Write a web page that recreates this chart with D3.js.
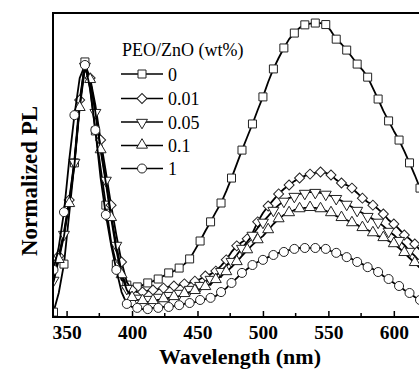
<!DOCTYPE html>
<html><head><meta charset="utf-8">
<script src="https://cdn.jsdelivr.net/npm/d3@7"></script>
<style>body{margin:0;background:#fff}svg{display:block}</style>
</head><body>
<svg id="chart" width="419" height="370"></svg>
<script>
const wavelengths = [340,344,348,352,356,360,364,368,372,376,380,384,388,392,396,400,404,408,412,416,420,424,428,432,436,440,444,448,452,456,460,464,468,472,476,480,484,488,492,496,500,504,508,512,516,520,524,528,532,536,540,544,548,552,556,560,564,568,572,576,580,584,588,592,596,600,604,608,612,616,620];
const seriesLabels = ["0","0.01","0.05","0.1","1"];
const pl_0 = [0.016,0.079,0.174,0.339,0.507,0.697,0.839,0.747,0.612,0.490,0.368,0.247,0.174,0.122,0.105,0.095,0.099,0.105,0.112,0.118,0.125,0.135,0.145,0.151,0.161,0.174,0.191,0.220,0.250,0.283,0.313,0.345,0.375,0.414,0.457,0.503,0.549,0.592,0.635,0.681,0.724,0.773,0.816,0.852,0.885,0.914,0.934,0.951,0.961,0.965,0.967,0.967,0.962,0.941,0.914,0.898,0.878,0.855,0.832,0.813,0.789,0.753,0.717,0.678,0.645,0.612,0.582,0.546,0.507,0.467,0.424];
const pl_001 = [0.128,0.201,0.280,0.385,0.516,0.714,0.832,0.786,0.697,0.582,0.477,0.368,0.270,0.181,0.115,0.089,0.082,0.082,0.086,0.089,0.092,0.095,0.099,0.102,0.105,0.109,0.112,0.118,0.125,0.135,0.141,0.151,0.168,0.188,0.214,0.234,0.247,0.257,0.276,0.313,0.342,0.365,0.385,0.405,0.421,0.434,0.447,0.457,0.464,0.470,0.474,0.477,0.474,0.467,0.451,0.441,0.434,0.424,0.408,0.391,0.378,0.368,0.355,0.339,0.319,0.306,0.289,0.270,0.257,0.240,0.220];
const pl_005 = [0.122,0.194,0.273,0.378,0.510,0.697,0.826,0.780,0.674,0.556,0.451,0.336,0.237,0.148,0.095,0.069,0.063,0.059,0.059,0.063,0.066,0.069,0.072,0.076,0.079,0.086,0.092,0.099,0.105,0.115,0.125,0.135,0.151,0.168,0.184,0.204,0.227,0.247,0.270,0.293,0.313,0.332,0.352,0.368,0.382,0.391,0.398,0.405,0.408,0.411,0.411,0.408,0.405,0.398,0.391,0.382,0.372,0.362,0.352,0.342,0.332,0.322,0.313,0.299,0.283,0.270,0.253,0.237,0.217,0.201,0.181];
const pl_01 = [0.115,0.188,0.266,0.372,0.500,0.688,0.819,0.780,0.674,0.549,0.441,0.326,0.220,0.138,0.089,0.063,0.056,0.053,0.049,0.053,0.056,0.059,0.063,0.066,0.069,0.076,0.082,0.086,0.092,0.099,0.109,0.122,0.135,0.148,0.164,0.181,0.201,0.220,0.237,0.253,0.266,0.286,0.306,0.322,0.336,0.342,0.352,0.355,0.359,0.359,0.359,0.355,0.349,0.342,0.332,0.326,0.319,0.309,0.303,0.293,0.286,0.276,0.266,0.260,0.250,0.240,0.227,0.211,0.194,0.178,0.161];
const pl_1 = [0.155,0.230,0.345,0.516,0.664,0.786,0.829,0.753,0.615,0.457,0.336,0.237,0.155,0.082,0.043,0.033,0.030,0.026,0.026,0.030,0.030,0.033,0.033,0.036,0.039,0.043,0.046,0.049,0.056,0.059,0.063,0.069,0.082,0.095,0.112,0.128,0.145,0.158,0.171,0.181,0.188,0.197,0.204,0.211,0.214,0.220,0.224,0.227,0.227,0.227,0.227,0.227,0.224,0.217,0.211,0.204,0.197,0.191,0.181,0.174,0.164,0.158,0.148,0.135,0.125,0.112,0.102,0.089,0.079,0.066,0.056];
const seriesValues = [pl_0, pl_001, pl_005, pl_01, pl_1];
const markerShapes = ["square","diamond","triangleDown","triangleUp","circle"];
const markerOffsets = [0,1,0,1,0];
const xTicks = [350,400,450,500,550,600];
const xMinorTicks = [375,425,475,525,575];
const legendTitle = "PEO/ZnO (wt%)";
const xLabel = "Wavelength (nm)";
const yLabel = "Normalized PL";

const svg = d3.select("#chart");
const pLeft = 53, pTop = 13, pBottom = 317, pRight = 428;
const x = d3.scaleLinear().domain([340, 620]).range([53.5, 420]);
const y = d3.scaleLinear().domain([0, 1]).range([pBottom, pTop]);

svg.append("defs").append("clipPath").attr("id","clip")
  .append("rect").attr("x", pLeft).attr("y", pTop).attr("width", pRight-pLeft).attr("height", pBottom-pTop);

function markerPath(shape) {
  if (shape === "square") return d3.symbol().type(d3.symbolSquare).size(64)();
  if (shape === "diamond") return d3.symbol().type(d3.symbolSquare).size(50)();
  if (shape === "circle") return d3.symbol().type(d3.symbolCircle).size(64)();
  return d3.symbol().type(d3.symbolTriangle).size(52)();
}
function markerTransform(shape, px, py) {
  if (shape === "diamond") return `translate(${px},${py}) rotate(45)`;
  if (shape === "triangleDown") return `translate(${px},${py+0.5}) rotate(180)`;
  if (shape === "triangleUp") return `translate(${px},${py-0.5})`;
  return `translate(${px},${py})`;
}

const plot = svg.append("g").attr("clip-path","url(#clip)");
const line = d3.line().x((d,i)=>x(wavelengths[i])).y(d=>y(d));

seriesValues.forEach((vals, si) => {
  const g = plot.append("g");
  g.append("path").datum(vals).attr("d", line)
    .attr("fill","none").attr("stroke","#000").attr("stroke-width",1.8).attr("stroke-linejoin","round");
  const pts = vals.map((v,i)=>({v,i})).filter(d => d.i % 2 === markerOffsets[si]);
  g.selectAll("path.m").data(pts).enter().append("path").attr("class","m")
    .attr("d", markerPath(markerShapes[si]))
    .attr("transform", d => markerTransform(markerShapes[si], x(wavelengths[d.i]), y(d.v)))
    .attr("fill","#fff").attr("stroke","#222").attr("stroke-width",1);
});

// frame
svg.append("rect").attr("x", pLeft).attr("y", pTop).attr("width", pRight-pLeft).attr("height", pBottom-pTop)
  .attr("fill","none").attr("stroke","#000").attr("stroke-width",2);

// x axis
const xAxis = d3.axisBottom(x).tickValues(xTicks).tickSizeInner(-6).tickSizeOuter(0).tickPadding(8).tickFormat(d3.format("d"));
const ax = svg.append("g").attr("transform",`translate(0,${pBottom})`).call(xAxis);
ax.select(".domain").remove();
ax.selectAll(".tick line").attr("stroke","#000").attr("stroke-width",1.5);
ax.selectAll(".tick text").attr("font-family","'Liberation Serif', 'Times New Roman', serif")
  .attr("font-size",19.5).attr("font-weight","bold").attr("fill","#000");
svg.append("g").selectAll("line").data(xMinorTicks).enter().append("line")
  .attr("x1",d=>x(d)).attr("x2",d=>x(d)).attr("y1",pBottom).attr("y2",pBottom-4)
  .attr("stroke","#000").attr("stroke-width",1.5);

// labels
svg.append("text").attr("x",240).attr("y",364).attr("text-anchor","middle")
  .attr("font-family","'Liberation Serif', serif").attr("font-size",22).attr("font-weight","bold").text(xLabel);
svg.append("text").attr("transform","translate(37,181) rotate(-90)").attr("text-anchor","middle")
  .attr("font-family","'Liberation Serif', serif").attr("font-size",23).attr("font-weight","bold").text(yLabel);

// legend
const lg = svg.append("g");
lg.append("text").attr("x",122).attr("y",56).attr("font-family","'Liberation Serif', serif").attr("font-size",18).text(legendTitle);
const rowY = [74, 98.5, 122, 145.5, 168.5];
seriesLabels.forEach((lab, si) => {
  const yy = rowY[si];
  lg.append("line").attr("x1",121).attr("x2",163).attr("y1",yy).attr("y2",yy).attr("stroke","#000").attr("stroke-width",1.6);
  lg.append("path").attr("d", markerPath(markerShapes[si])).attr("transform", markerTransform(markerShapes[si],142,yy))
    .attr("fill","#fff").attr("stroke","#222").attr("stroke-width",1);
  lg.append("text").attr("x",168).attr("y",yy+6.5).attr("font-family","'Liberation Serif', serif").attr("font-size",18).text(lab);
});
</script>
</body></html>
